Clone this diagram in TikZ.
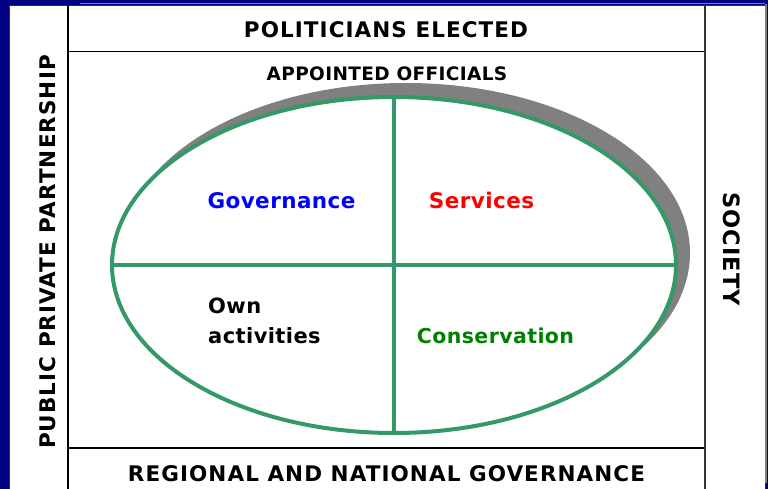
\documentclass[tikz,border=0pt]{standalone}
\usepackage{fontspec}
\setmainfont{DejaVu Sans}
\newfontfamily\headfont{DejaVu Sans Bold}[LetterSpace=2]
\newfontfamily\capfont{DejaVu Sans Bold}[LetterSpace=5]
\usetikzlibrary{shapes.geometric}
\definecolor{slide}{RGB}{0,0,128}
\definecolor{rim}{RGB}{51,153,102}
\definecolor{cons}{RGB}{0,128,0}
\begin{document}
\begin{tikzpicture}[x=1pt, y=-1pt,
  lbl/.style={font=\headfont\fontsize{21.5}{26}\selectfont, inner sep=0pt, anchor=base},
  capslbl/.style={lbl, font=\capfont\fontsize{21.5}{26}\selectfont},
  frame/.style={black, line width=1.3pt},
  rim/.style={draw=rim, line width=4pt}]
\useasboundingbox (0,0) rectangle (768,489);
\fill[slide] (0,0) rectangle (768,489);
\draw[fill=white, draw=black!80, line width=1pt] (9.5,5.5) rectangle (765,495);
\draw[gray, line width=1pt] (80,4) -- (765,4);
\draw[gray, line width=1.5pt] (766,4) -- (766,483);
\coordinate (ftl) at (68,5);
\coordinate (fbl) at (68,489);
\coordinate (ftr) at (705,5);
\coordinate (fbr) at (705,489);
\coordinate (hl1) at (68,51.5);
\coordinate (hr1) at (705,51.5);
\coordinate (hl2) at (68,448);
\coordinate (hr2) at (705,448);
\draw[frame] (ftl) -- (fbl);
\draw[frame] (hl1) -- (hr1);
\draw[frame] (hl2) -- (hr2);
\draw[black!80, line width=2pt] (ftr) -- (fbr);
\node[ellipse, fill=gray, minimum width=568, minimum height=340, outer sep=0pt] (shade) at (406,253) {};
\node[ellipse, rim, fill=white, minimum width=564, minimum height=336, outer sep=0pt] (oval) at (394,265) {};
\draw[rim] (oval.north) -- (oval.south);
\draw[rim] (oval.west) -- (oval.east);
\node[capslbl] (pol) at (386,38) {POLITICIANS ELECTED};
\node[lbl, font=\headfont\fontsize{18.5}{22}\selectfont] (app) at (387,81) {APPOINTED OFFICIALS};
\node[capslbl, rotate=90] (ppp) at (55,252) {PUBLIC PRIVATE PARTNERSHIP};
\node[capslbl, rotate=-90, font=\capfont\fontsize{22.5}{26}\selectfont] (soc) at (723,249) {SOCIETY};
\node[capslbl] (reg) at (386.5,481) {REGIONAL AND NATIONAL GOVERNANCE};
\node[lbl, blue] (gov) at (281.5,208) {Governance};
\node[lbl, red] (srv) at (481.5,208) {Services};
\node[lbl, font=\headfont\fontsize{21}{30}\selectfont, anchor=base west, align=left] (own) at (208,343) {Own\\activities};
\node[lbl, cons, font=\headfont\fontsize{20.5}{26}\selectfont] (con) at (495.5,343) {Conservation};
\end{tikzpicture}
\end{document}
